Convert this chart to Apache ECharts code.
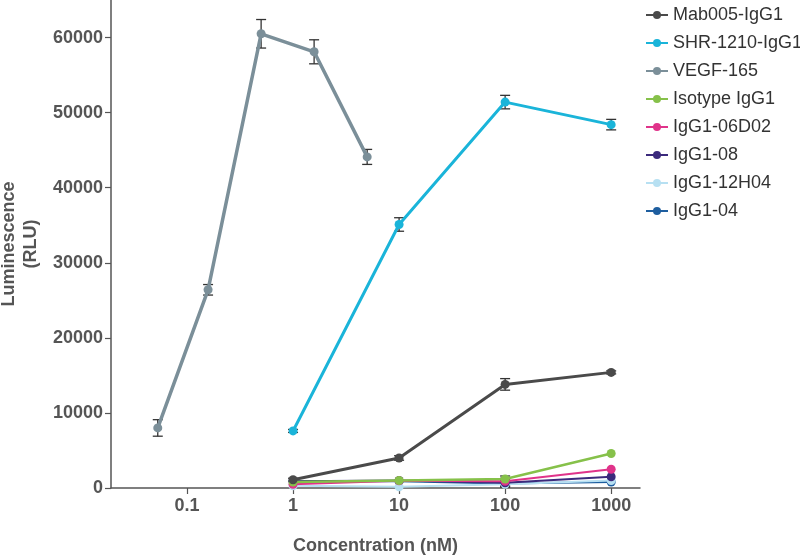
<!DOCTYPE html>
<html><head><meta charset="utf-8">
<script src="https://cdn.jsdelivr.net/npm/echarts@6/dist/echarts.min.js"></script>
<style>html,body{margin:0;padding:0;background:#fff}#c{width:800px;height:556px}</style>
</head><body><div id="c"></div>
<script>
const seriesNames = ['Mab005-IgG1','SHR-1210-IgG1','VEGF-165','Isotype IgG1','IgG1-06D02','IgG1-08','IgG1-12H04','IgG1-04'];
const colors = ['#4a4a4a','#1ab4d9','#7b8f99','#86c14a','#e0338a','#3b2a7c','#b7e0f2','#1e5e9f'];
const concAb = [1, 10, 100, 1000];
const concVegf = [0.053, 0.158, 0.5, 1.58, 5];
const mab005 = [1100, 4000, 13800, 15400];
const mab005Err = [200, 300, 770, 200];
const shr1210 = [7600, 35100, 51400, 48400];
const shr1210Err = [200, 900, 900, 700];
const vegf165 = [8000, 26400, 60500, 58100, 44100];
const vegf165Err = [1100, 700, 1900, 1600, 1000];
const isotype = [800, 1000, 1200, 4600];
const igg06d02 = [500, 950, 900, 2500];
const igg08 = [900, 1000, 700, 1500];
const igg12h04 = [300, 150, 500, 1000];
const igg04 = [900, 900, 600, 800];
const smallErr = [0, 0, 400, 0];
const xTicks = [0.1, 1, 10, 100, 1000];

const values = [mab005, shr1210, vegf165, isotype, igg06d02, igg08, igg12h04, igg04];
const errs = [mab005Err, shr1210Err, vegf165Err, smallErr, smallErr, smallErr, smallErr, smallErr];
const xs = [concAb, concAb, concVegf, concAb, concAb, concAb, concAb, concAb];
const widths = [3, 3, 3.5, 2.5, 2, 2, 2, 2];
const FONT = 'Liberation Sans, Arial, sans-serif';

const series = [];
values.forEach((v, i) => {
  series.push({
    name: seriesNames[i], type: 'line', data: v.map((y, j) => [xs[i][j], y]),
    symbol: 'circle', symbolSize: 9, color: colors[i],
    lineStyle: {width: widths[i], color: colors[i]}, itemStyle: {color: colors[i]},
    z: 3 + (values.length - i)
  });
  const ed = v.map((y, j) => [xs[i][j], y - errs[i][j], y + errs[i][j]]).filter((d, j) => errs[i][j] > 0);
  series.push({
    type: 'custom', name: seriesNames[i], data: ed, z: 2,
    renderItem: function (params, api) {
      const lo = api.coord([api.value(0), api.value(1)]);
      const hi = api.coord([api.value(0), api.value(2)]);
      const w = 5;
      const st = {stroke: '#333', lineWidth: 1.3};
      return {type: 'group', children: [
        {type: 'line', shape: {x1: lo[0], y1: lo[1], x2: hi[0], y2: hi[1]}, style: st},
        {type: 'line', shape: {x1: lo[0]-w, y1: lo[1], x2: lo[0]+w, y2: lo[1]}, style: st},
        {type: 'line', shape: {x1: hi[0]-w, y1: hi[1], x2: hi[0]+w, y2: hi[1]}, style: st}
      ]};
    }
  });
});

const chart = echarts.init(document.getElementById('c'));
chart.setOption({
  animation: false,
  legend: {
    data: seriesNames, orient: 'vertical', left: 640, top: 1, itemGap: 10, itemWidth: 22, itemHeight: 10,
    textStyle: {fontSize: 18, color: '#333', fontFamily: FONT}
  },
  grid: {left: 111, right: 160, top: 0, bottom: 68, containLabel: false, outerBoundsMode: 'none'},
  xAxis: {
    type: 'log', logBase: 10, min: 0.0192, max: 1870,
    name: 'Concentration (nM)', nameLocation: 'middle', nameGap: 49,
    nameTextStyle: {fontSize: 18, fontWeight: 'bold', color: '#555', fontFamily: FONT},
    axisLine: {lineStyle: {color: '#555', width: 1.5}},
    axisTick: {show: true, length: 6, lineStyle: {color: '#555', width: 1.2}, customValues: xTicks},
    axisLabel: {customValues: xTicks, fontSize: 18, fontWeight: 'bold', color: '#555', margin: 9,
      fontFamily: FONT, formatter: v => String(v)},
    splitLine: {show: false}, minorTick: {show: false}
  },
  yAxis: {
    type: 'value', min: 0, max: 65000, interval: 10000,
    name: 'Luminescence\n(RLU)', nameLocation: 'middle', nameGap: 67, nameRotate: 90,
    nameTextStyle: {fontSize: 18, fontWeight: 'bold', color: '#555', lineHeight: 22, fontFamily: FONT},
    axisLine: {show: true, lineStyle: {color: '#555', width: 1.5}},
    axisTick: {show: true, length: 6, lineStyle: {color: '#555', width: 1.2}},
    axisLabel: {fontSize: 18, fontWeight: 'bold', color: '#555', margin: 8, showMaxLabel: false,
      fontFamily: FONT, formatter: v => String(v)},
    splitLine: {show: false}
  },
  series: series
});
</script></body></html>
